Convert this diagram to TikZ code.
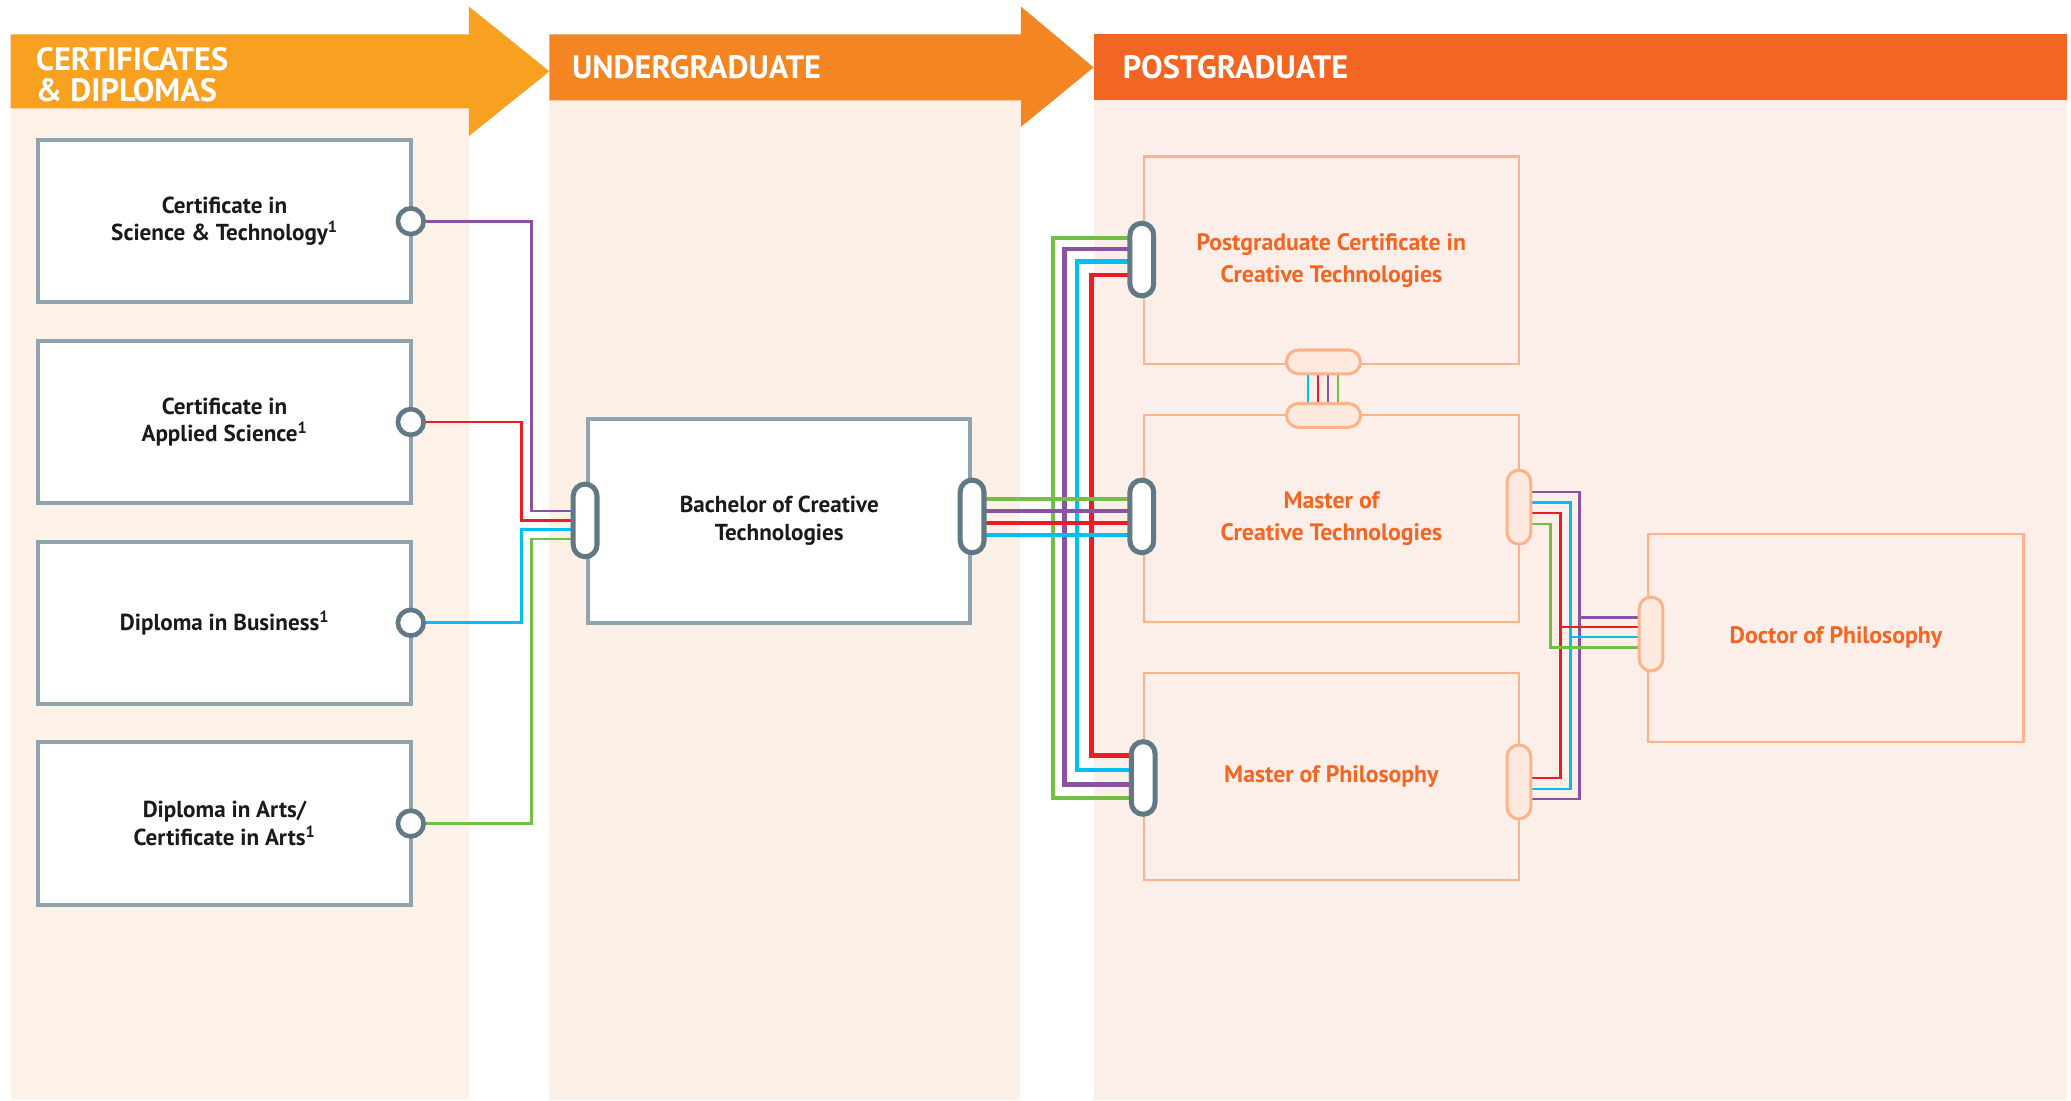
\documentclass[tikz,border=0pt]{standalone}
\usepackage{fontspec}
\setmainfont{PT Sans}
\usetikzlibrary{calc}
\definecolor{hOne}{HTML}{F8A01F}
\definecolor{hTwo}{HTML}{F38623}
\definecolor{hThree}{HTML}{F26522}
\definecolor{bgOne}{HTML}{FDF2E7}
\definecolor{bgTwo}{HTML}{FDF0E6}
\definecolor{bgThree}{HTML}{FCEEE9}
\definecolor{gBorder}{HTML}{8FA4AE}
\definecolor{gPort}{HTML}{617985}
\definecolor{oBorder}{HTML}{FBB38B}
\definecolor{oFill}{HTML}{FDE9DD}
\definecolor{oText}{HTML}{F26522}
\definecolor{cPurple}{HTML}{8B52A1}
\definecolor{cRed}{HTML}{ED1C24}
\definecolor{cCyan}{HTML}{00BFF3}
\definecolor{cGreen}{HTML}{72BF44}
\definecolor{txt}{HTML}{1A1A1A}
\pgfdeclarelayer{bg}
\pgfdeclarelayer{ln}
\pgfsetlayers{bg,ln,main}
\newcommand\mylbl{\fontsize{17.5}{21}\selectfont\bfseries}
\newcommand\myolbl{\fontsize{18}{24}\selectfont\bfseries}
\newcommand\myhead{\fontsize{24.5}{24}\selectfont\bfseries}
\begin{document}
\begin{tikzpicture}[x=1pt,y=-1pt,
  gbox/.style={draw=gBorder,line width=3pt,fill=white,minimum width=283pt,minimum height=123pt,inner sep=0pt,align=center,font=\mylbl,text=txt},
  bbox/.style={gbox,minimum width=289pt,minimum height=154pt},
  obox/.style={draw=oBorder,line width=1.6pt,minimum width=284pt,minimum height=157pt,inner sep=0pt,align=center,font=\myolbl,text=oText},
  gcirc/.style={circle,draw=gPort,line width=3.5pt,fill=white,minimum size=19.5pt,inner sep=0pt},
  gport/.style={rectangle,rounded corners=9pt,draw=gPort,line width=3.8pt,fill=white,minimum width=18pt,minimum height=55pt,inner sep=0pt},
  oport/.style={rectangle,rounded corners=9pt,draw=oBorder,line width=2.3pt,fill=oFill,minimum width=18pt,minimum height=56pt,inner sep=0pt},
  oporth/.style={oport,minimum width=56pt,minimum height=18pt},
  htext/.style={anchor=west,inner sep=0pt,align=left,font=\myhead,text=white},
  thinln/.style={line width=2pt},
  busln/.style={line width=3.3pt},
  tinyln/.style={line width=1.5pt}
]
\useasboundingbox (0,0) rectangle (1568,833);

% backgrounds and header arrows
\begin{pgfonlayer}{bg}
\fill[bgOne] (8,82) rectangle (355,833);
\fill[bgTwo] (416,76) rectangle (772,833);
\fill[bgThree] (828,76) rectangle (1565,833);
\fill[hOne] (8,26) -- (355,26) -- (355,5) -- (416,54) -- (355,103) -- (355,82) -- (8,82) -- cycle;
\fill[hTwo] (416,26) -- (773,26) -- (773,5) -- (828,51) -- (773,96) -- (773,76) -- (416,76) -- cycle;
\fill[hThree] (828,26) rectangle (1565,76);
\end{pgfonlayer}

\node[htext] (tOne) at (27,56.5) {CERTIFICATES\\\& DIPLOMAS};
\node[htext] (tTwo) at (433,51) {UNDERGRADUATE};
\node[htext] (tThree) at (850,51) {POSTGRADUATE};

% left boxes
\node[gbox] (bA) at (170,167.5) {Certificate in\\Science \& Technology\textsuperscript{1}};
\node[gbox] (bB) at (170,319.5) {Certificate in\\Applied Science\textsuperscript{1}};
\node[gbox] (bC) at (170,471.5) {Diploma in Business\textsuperscript{1}};
\node[gbox] (bD) at (170,623.5) {Diploma in Arts/\\Certificate in Arts\textsuperscript{1}};
\node[gcirc] (cA) at (311,167.5) {};
\node[gcirc] (cB) at (311,319.5) {};
\node[gcirc] (cC) at (311,471.5) {};
\node[gcirc] (cD) at (311,623.5) {};

% bachelor
\node[bbox] (bach) at (590,394.5) {Bachelor of Creative\\Technologies};
\node[gport] (pL) at (443,394) {};
\node[gport] (pR) at (736,391) {};

% postgraduate boxes
\node[obox] (pgc) at (1008,197) {Postgraduate Certificate in\\Creative Technologies};
\node[obox] (mct) at (1008,392.75) {Master of\\Creative Technologies};
\node[obox] (mphil) at (1008,588) {Master of Philosophy};
\node[obox] (phd) at (1390,483) {Doctor of Philosophy};

\node[gport] (qPG) at (864.5,196.5) {};
\node[gport] (qMC) at (864.5,391) {};
\node[gport] (qMP) at (865.5,589) {};

\node[oporth] (hTop) at (1002,274) {};
\node[oporth] (hBot) at (1002,314.5) {};
\node[oport] (rMC) at (1150,384) {};
\node[oport] (rMP) at (1150,592) {};
\node[oport] (rPhD) at (1250,480) {};

\begin{pgfonlayer}{ln}
% certificates -> bachelor
\draw[thinln,cPurple] (cA.east) -| ($(pL)+(-40.5,-7)$) -- ($(pL)+(0,-7)$);
\draw[thinln,cRed] (cB.east) -| ($(pL)+(-48,0)$) -- (pL.center);
\draw[thinln,cCyan] (cC.east) -| ($(pL)+(-48,7)$) -- ($(pL)+(0,7)$);
\draw[thinln,cGreen] (cD.east) -| ($(pL)+(-40.5,14)$) -- ($(pL)+(0,14)$);

% bus: vertical trunks to PG cert and MPhil
\draw[busln,cGreen] ($(qPG)+(0,-16.5)$) -| ($(qMP)+(-68.5,15)$) -- ($(qMP)+(0,15)$);
\draw[busln,cPurple] ($(qPG)+(0,-8)$) -| ($(qMP)+(-59.5,5)$) -- ($(qMP)+(0,5)$);
\draw[busln,cCyan] ($(qPG)+(0,1.5)$) -| ($(qMP)+(-50,-6)$) -- ($(qMP)+(0,-6)$);
\draw[busln,cRed] ($(qPG)+(0,11.5)$) -| ($(qMP)+(-39,-17)$) -- ($(qMP)+(0,-17)$);

% bachelor -> master of creative technologies
\draw[busln,cGreen] ($(pR)+(0,-13)$) -- ($(qMC)+(0,-13)$);
\draw[busln,cPurple] ($(pR)+(0,-4)$) -- ($(qMC)+(0,-4)$);
\draw[busln,cRed] ($(pR)+(0,5)$) -- ($(qMC)+(0,5)$);
\draw[busln,cCyan] ($(pR)+(0,14)$) -- ($(qMC)+(0,14)$);

% PG cert <-> MCT
\draw[tinyln,cCyan] ($(hTop)+(-12,0)$) -- ($(hBot)+(-12,0)$);
\draw[tinyln,cRed] ($(hTop)+(-4.4,0)$) -- ($(hBot)+(-4.4,0)$);
\draw[tinyln,cPurple] ($(hTop)+(3.5,0)$) -- ($(hBot)+(3.5,0)$);
\draw[tinyln,cGreen] ($(hTop)+(11,0)$) -- ($(hBot)+(11,0)$);

% masters -> PhD
\draw[thinln,cPurple] ($(rMC)+(0,-11.6)$) -| ($(rMP)+(46,13)$) -- ($(rMP)+(0,13)$);
\draw[thinln,cCyan] ($(rMC)+(0,-3.4)$) -| ($(rMP)+(39,5.4)$) -- ($(rMP)+(0,5.4)$);
\draw[thinln,cRed] ($(rMC)+(0,4.5)$) -| ($(rMP)+(31.5,-3)$) -- ($(rMP)+(0,-3)$);
\draw[thinln,cGreen] ($(rMC)+(0,12.7)$) -| ($(rPhD)+(-76,10)$) -- ($(rPhD)+(0,10)$);
\draw[thinln,cPurple] ($(rPhD)+(-54,-12.4)$) -- ($(rPhD)+(0,-12.4)$);
\draw[thinln,cRed] ($(rPhD)+(-68.5,-5.3)$) -- ($(rPhD)+(0,-5.3)$);
\draw[thinln,cCyan] ($(rPhD)+(-61,2.3)$) -- ($(rPhD)+(0,2.3)$);
\end{pgfonlayer}
\end{tikzpicture}
\end{document}
